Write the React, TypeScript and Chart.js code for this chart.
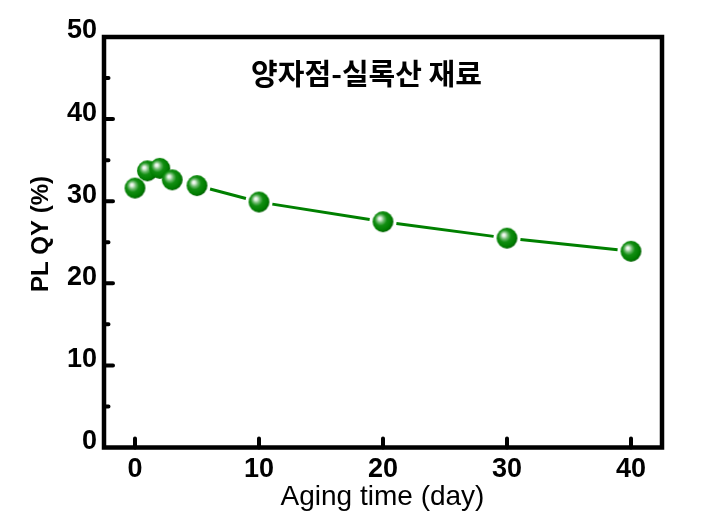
import React, { useEffect, useRef } from "react";
import { Chart, registerables } from "chart.js";

Chart.register(...registerables);

const agingDays = [0, 1, 2, 3, 5, 10, 20, 30, 40];
const plqy = [31.6, 33.7, 34.0, 32.6, 31.9, 29.9, 27.5, 25.5, 23.9];
const xTicks = [0, 10, 20, 30, 40];
const yTicks = [0, 10, 20, 30, 40, 50];
const yMinorTicks = [5, 15, 25, 35, 45];
const xTitle = "Aging time (day)";
const yTitle = "PL QY (%)";
const annotation = "양자점-실록산 재료";

const FONT = "'Liberation Sans', Arial, sans-serif";
const GREEN = "#008000";

function makeSphere(r: number): HTMLCanvasElement {
  const size = Math.ceil(r * 2 + 2);
  const c = document.createElement("canvas");
  c.width = size;
  c.height = size;
  const g = c.getContext("2d")!;
  const cx = size / 2;
  const cy = size / 2;
  const grad = g.createRadialGradient(cx - 3.4, cy - 3.4, 0, cx - 1.2, cy - 1.2, r + 1.5);
  grad.addColorStop(0, "#ffffff");
  grad.addColorStop(0.12, "#e2f1e2");
  grad.addColorStop(0.32, "#6ab86a");
  grad.addColorStop(0.52, "#128e12");
  grad.addColorStop(0.85, "#007c00");
  grad.addColorStop(1, "#005a00");
  g.fillStyle = grad;
  g.beginPath();
  g.arc(cx, cy, r, 0, Math.PI * 2);
  g.fill();
  return c;
}

const decoPlugin = {
  id: "deco",
  beforeDatasetsDraw(chart: any) {
    const { ctx, scales } = chart;
    const x = scales.x;
    const y = scales.y;
    const gap = 13.5;
    ctx.save();
    ctx.strokeStyle = GREEN;
    ctx.lineWidth = 3;
    ctx.lineCap = "butt";
    for (let i = 0; i < agingDays.length - 1; i++) {
      const x1 = x.getPixelForValue(agingDays[i]);
      const y1 = y.getPixelForValue(plqy[i]);
      const x2 = x.getPixelForValue(agingDays[i + 1]);
      const y2 = y.getPixelForValue(plqy[i + 1]);
      const d = Math.hypot(x2 - x1, y2 - y1);
      if (d <= gap * 2) continue;
      const ux = (x2 - x1) / d;
      const uy = (y2 - y1) / d;
      ctx.beginPath();
      ctx.moveTo(x1 + ux * gap, y1 + uy * gap);
      ctx.lineTo(x2 - ux * gap, y2 - uy * gap);
      ctx.stroke();
    }
    ctx.restore();
  },
  afterDraw(chart: any) {
    const { ctx, chartArea: a, scales } = chart;
    const x = scales.x;
    const y = scales.y;
    ctx.save();
    ctx.strokeStyle = "#000";
    ctx.lineWidth = 4.5;
    ctx.lineJoin = "miter";
    ctx.strokeRect(a.left, a.top, a.right - a.left, a.bottom - a.top);
    ctx.lineWidth = 4;
    ctx.lineCap = "round";
    ctx.beginPath();
    yTicks.forEach((v) => {
      if (v === 0 || v === 50) return;
      const py = y.getPixelForValue(v);
      ctx.moveTo(a.left, py);
      ctx.lineTo(a.left + 9, py);
    });
    yMinorTicks.forEach((v) => {
      const py = y.getPixelForValue(v);
      ctx.moveTo(a.left, py);
      ctx.lineTo(a.left + 4.5, py);
    });
    xTicks.forEach((v) => {
      const px = x.getPixelForValue(v);
      ctx.moveTo(px, a.bottom);
      ctx.lineTo(px, a.bottom - 9);
    });
    ctx.stroke();
    ctx.fillStyle = "#000";
    ctx.font = `28px ${FONT}`;
    ctx.textAlign = "center";
    ctx.textBaseline = "alphabetic";
    ctx.fillText(xTitle, 382.5, 505);
    ctx.save();
    ctx.translate(48, 234);
    ctx.rotate(-Math.PI / 2);
    ctx.font = `bold 24px ${FONT}`;
    ctx.fillText(yTitle, 0, 0);
    ctx.restore();
    ctx.font = `bold 29px 'Noto Sans CJK KR', sans-serif`;
    ctx.textBaseline = "middle";
    ctx.fillText(annotation, 366.5, 74);
    ctx.restore();
  },
};

export default function App() {
  const ref = useRef<HTMLCanvasElement | null>(null);
  useEffect(() => {
    document.body.style.margin = "0";
    const sphere = makeSphere(10.4);
    const chart = new Chart(ref.current!, {
      type: "scatter",
      data: {
        datasets: [
          {
            data: agingDays.map((d, i) => ({ x: d, y: plqy[i] })),
            pointStyle: sphere as any,
            pointRadius: 10,
            showLine: false,
          },
        ],
      },
      plugins: [decoPlugin],
      options: {
        responsive: false,
        animation: false,
        events: [],
        layout: { padding: { left: 0, right: 40, top: 37, bottom: 0 } },
        plugins: { legend: { display: false }, tooltip: { enabled: false } },
        scales: {
          x: {
            type: "linear",
            min: -2.5,
            max: 42.5,
            grid: { display: false, drawTicks: false },
            border: { display: false },
            afterBuildTicks: (s: any) => {
              s.ticks = xTicks.map((v) => ({ value: v }));
            },
            afterFit: (s: any) => {
              s.height = 82.5;
            },
            ticks: {
              padding: 6,
              color: "#000",
              font: { family: FONT, size: 27, weight: "bold" },
            },
          },
          y: {
            type: "linear",
            min: 0,
            max: 50,
            grid: { display: false, drawTicks: false },
            border: { display: false },
            afterBuildTicks: (s: any) => {
              s.ticks = yTicks.map((v) => ({ value: v }));
            },
            afterFit: (s: any) => {
              s.width = 104;
            },
            ticks: {
              padding: 7,
              labelOffset: -6,
              color: "#000",
              font: { family: FONT, size: 27, weight: "bold" },
            },
          },
        },
      },
    });
    return () => chart.destroy();
  }, []);
  return <canvas ref={ref} width={702} height={530} style={{ display: "block" }} />;
}
